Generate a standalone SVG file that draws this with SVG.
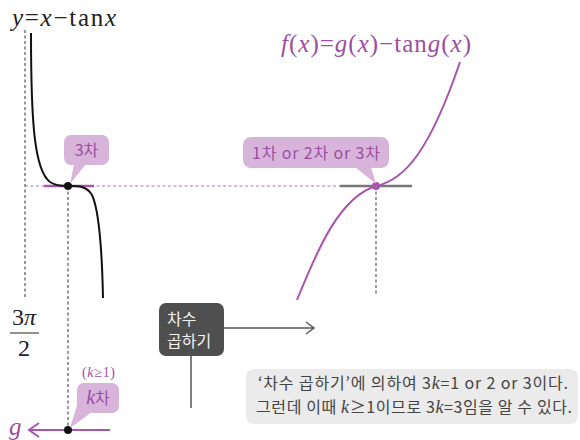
<svg xmlns="http://www.w3.org/2000/svg" width="580" height="440" viewBox="0 0 580 440">
<style>
svg{overflow:hidden}
.math{font-family:"Liberation Serif","DejaVu Serif",serif}
.it{font-style:italic}
.ko{font-family:"Noto Sans CJK KR","Noto Sans",sans-serif}
.call{fill:#d8b4db}
.calltxt{fill:#9b4ea2;text-anchor:middle}
.dash{stroke:#555;stroke-width:1.2;stroke-dasharray:3 2.5;fill:none}
.pdash{stroke:#b472bb;stroke-width:1.2;stroke-dasharray:3 2.5;fill:none}
</style>
<rect width="580" height="440" fill="#fff"/>

<g id="title-left">
<text class="math" font-size="25" x="12" y="26" fill="#222" textLength="104" lengthAdjust="spacing"><tspan class="it">y</tspan>=<tspan class="it">x</tspan>−tan<tspan class="it">x</tspan></text>
</g>
<g id="title-right">
<text class="math" font-size="25" x="281" y="52" fill="#9b4ea2" textLength="190" lengthAdjust="spacing"><tspan class="it">f</tspan>(<tspan class="it">x</tspan>)=<tspan class="it">g</tspan>(<tspan class="it">x</tspan>)−tan<tspan class="it">g</tspan>(<tspan class="it">x</tspan>)</text>
</g>

<g id="connectors">
<line class="dash" x1="25" y1="30" x2="25" y2="298"/>
<line class="dash" x1="68" y1="186" x2="68" y2="430"/>
<line class="dash" x1="376" y1="186" x2="376" y2="296"/>
<line class="pdash" x1="25" y1="186" x2="340" y2="186"/>
<line x1="44" y1="186" x2="94" y2="186" stroke="#a855ae" stroke-width="2.5"/>
<line x1="340" y1="186" x2="412" y2="186" stroke="#777" stroke-width="2.5"/>
<path d="M31,33 C31,120 34,170 50,182 C56,186 62,186 68,186 C76,186 86,185 92,195 C99,210 102,250 103,298" fill="none" stroke="#111" stroke-width="2"/>
<path d="M297,300 C318,248 340,197 376,186 C405,180 430,150 460,62" fill="none" stroke="#a855ae" stroke-width="2"/>
<line x1="29" y1="430" x2="110" y2="430" stroke="#a855ae" stroke-width="2"/>
<polyline points="39,423 29,430 39,437" fill="none" stroke="#a855ae" stroke-width="2"/>
<line x1="224" y1="328" x2="314" y2="328" stroke="#555" stroke-width="1.5"/>
<polyline points="306,322 314,328 306,334" fill="none" stroke="#555" stroke-width="1.5"/>
<line x1="191" y1="356" x2="191" y2="408" stroke="#555" stroke-width="1.5"/>
</g>

<g id="point-left"><circle cx="68" cy="186" r="4" fill="#111"/></g>
<g id="point-right"><circle cx="376" cy="186" r="4" fill="#a855ae"/></g>
<g id="point-g"><circle cx="68" cy="430" r="4" fill="#111"/></g>

<g id="label-3pi2">
<text class="math" font-size="24" x="24" y="325" text-anchor="middle" fill="#222">3<tspan class="it">π</tspan></text>
<line x1="10" y1="333" x2="39" y2="333" stroke="#222" stroke-width="1"/>
<text class="math" font-size="24" x="24" y="356" text-anchor="middle" fill="#222">2</text>
</g>

<g id="label-g">
<text class="math it" font-size="25" x="9" y="435" fill="#9b4ea2">g</text>
</g>

<g id="callout-3">
<rect class="call" x="64" y="135" width="45" height="30" rx="7"/>
<polygon class="call" points="74,164 86,164 70,184"/>
<text class="ko calltxt" font-size="16" x="86.5" y="156">3차</text>
</g>

<g id="callout-123">
<rect class="call" x="243" y="137" width="146" height="31" rx="8"/>
<polygon class="call" points="355,167 371,167 376,184"/>
<text class="ko calltxt" font-size="16" x="316" y="159" textLength="128" lengthAdjust="spacing">1차 or 2차 or 3차</text>
</g>

<g id="callout-k">
<text class="math" font-size="14" x="98.5" y="377" text-anchor="middle" fill="#9b4ea2" textLength="33" lengthAdjust="spacing">(<tspan class="it">k</tspan>≥1)</text>
<rect class="call" x="77" y="383" width="42" height="30" rx="7"/>
<polygon class="call" points="78,402 92,412 70,428"/>
<text class="calltxt" x="98" y="404" font-size="16"><tspan class="math it" font-size="20">k</tspan><tspan class="ko">차</tspan></text>
</g>

<g id="box-mult">
<rect x="159" y="303" width="65" height="53" rx="7" fill="#4f4f4f"/>
<text class="ko" x="167" y="325" fill="#f2f2f2" font-size="16">차수</text>
<text class="ko" x="167" y="347" fill="#f2f2f2" font-size="16">곱하기</text>
</g>

<g id="note">
<rect x="246" y="369" width="332" height="55" rx="8" fill="#ebebeb"/>
<text class="ko" x="258" y="389" fill="#444" font-size="16" textLength="310" lengthAdjust="spacing">‘차수 곱하기’에 의하여 3<tspan class="math it" font-size="18">k</tspan>=1 or 2 or 3이다.</text>
<text class="ko" x="256" y="413" fill="#444" font-size="16" textLength="316" lengthAdjust="spacing">그런데 이때 <tspan class="math it" font-size="18">k</tspan>≥1이므로 3<tspan class="math it" font-size="18">k</tspan>=3임을 알 수 있다.</text>
</g>
</svg>
